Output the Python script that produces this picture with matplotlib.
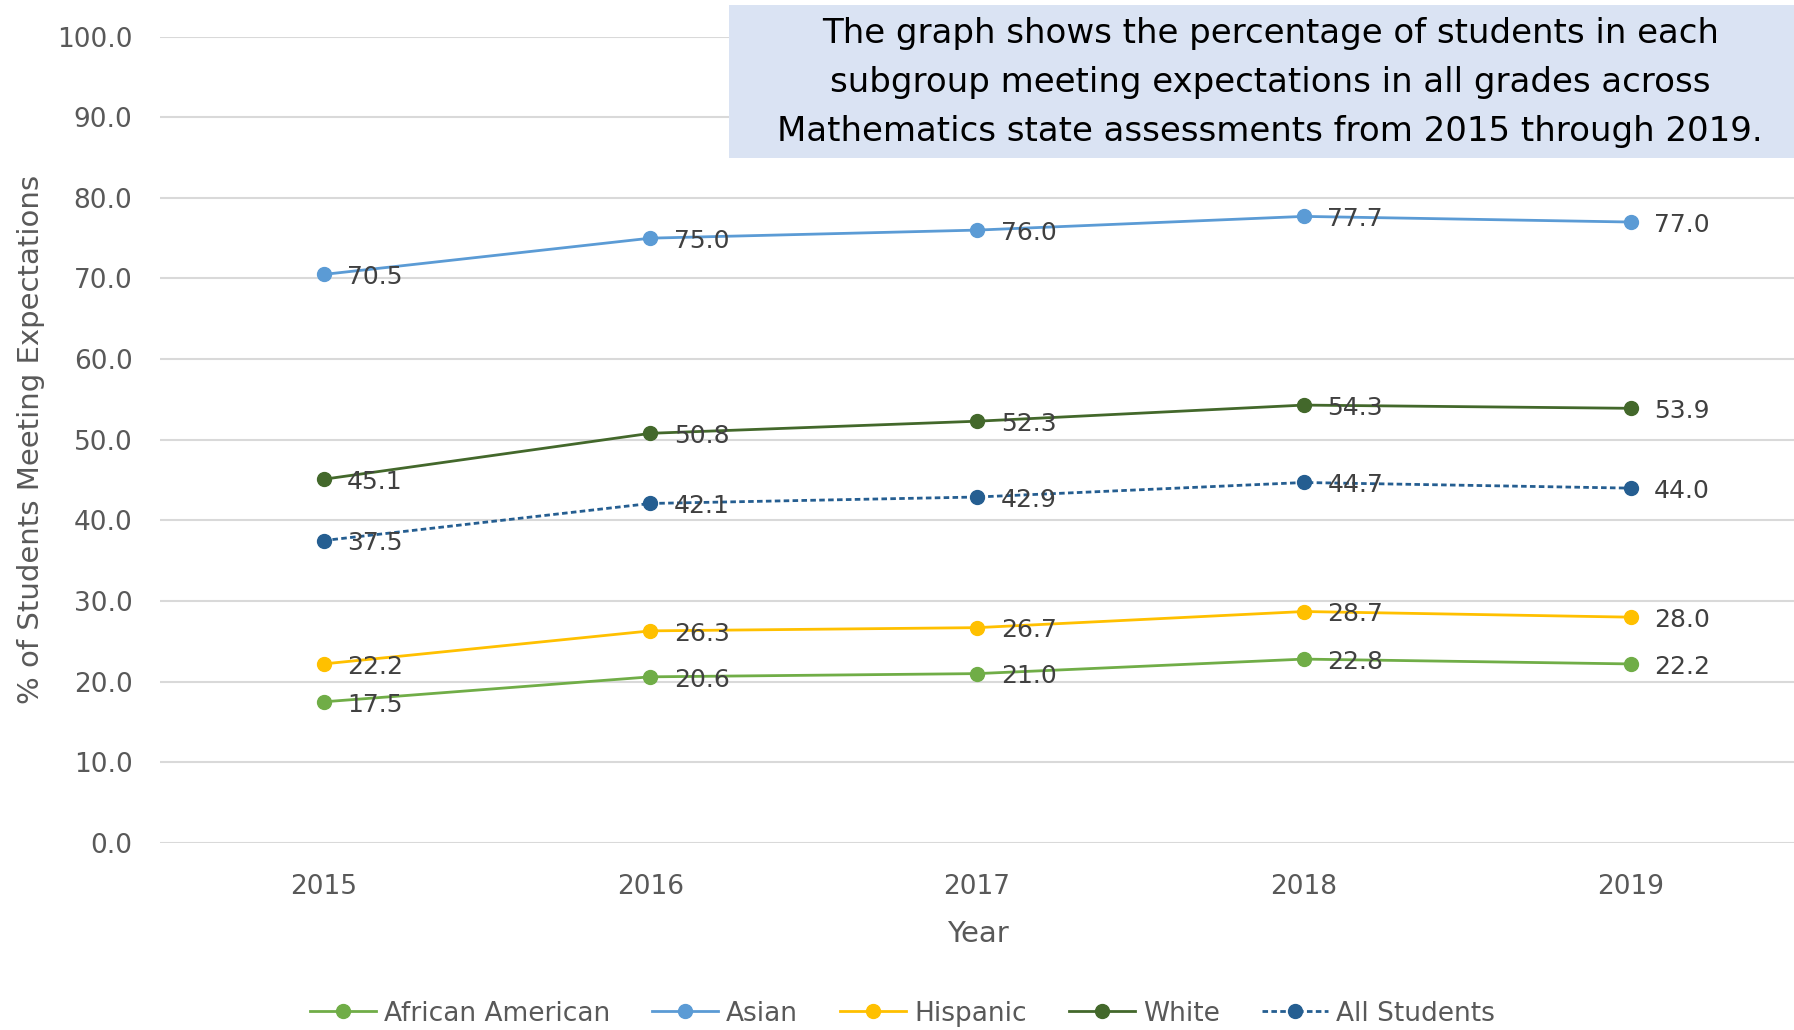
import matplotlib
matplotlib.use('Agg')
import matplotlib.pyplot as plt
from matplotlib.patches import Rectangle

plt.rcParams['font.family'] = ['DejaVu Sans']

anos = ['2015', '2016', '2017', '2018', '2019']
african_american = [17.5, 20.6, 21.0, 22.8, 22.2]
asian = [70.5, 75.0, 76.0, 77.7, 77.0]
hispanic = [22.2, 26.3, 26.7, 28.7, 28.0]
white = [45.1, 50.8, 52.3, 54.3, 53.9]
all_students = [37.5, 42.1, 42.9, 44.7, 44.0]

series = [
    ('African American', african_american, '#70AD47', '-'),
    ('Asian', asian, '#5B9BD5', '-'),
    ('Hispanic', hispanic, '#FFC000', '-'),
    ('White', white, '#43682B', '-'),
    ('All Students', all_students, '#255E91', (0, (2, 1.2))),
]

fig = plt.figure(figsize=(17.94, 10.30), dpi=100)
ax = fig.add_axes([0.0893, 0.1816, 0.9107, 0.7829])

x = range(len(anos))
for nome, vals, cor, estilo in series:
    ax.plot(x, vals, color=cor, linestyle=estilo, linewidth=2.0,
            marker='o', markersize=10, label=nome)
    for xi, v in zip(x, vals):
        ax.annotate(f'{v:.1f}', (xi, v), xytext=(17, -2), textcoords='offset points',
                    ha='left', va='center', fontsize=18, color='#404040')

ax.set_xlim(-0.5, 4.5)
ax.set_ylim(0, 100)
ax.set_yticks(range(0, 101, 10))
ax.set_yticklabels([f'{t:.1f}' for t in range(0, 101, 10)])
ax.set_xticks(list(x))
ax.set_xticklabels(anos)
ax.tick_params(axis='y', length=0, labelsize=19, colors='#595959', pad=20)
ax.tick_params(axis='x', length=0, labelsize=19, colors='#595959', pad=22)
ax.grid(axis='y', color='#D9D9D9', linewidth=1.5)
ax.set_axisbelow(True)
for lado in ax.spines.values():
    lado.set_visible(False)

fig.text(0.0173, 0.573, '% of Students Meeting Expectations', rotation=90,
         ha='center', va='center', fontsize=21, color='#595959')
fig.text(0.545, 0.093, 'Year', ha='center', va='center', fontsize=21, color='#595959')

fig.legend(loc='center', bbox_to_anchor=(0.503, 0.016), ncol=5, frameon=False,
           fontsize=19, labelcolor='#595959', handlelength=2.5, columnspacing=1.6,
           handletextpad=0.3)

# caixa azul com o texto explicativo
fig.patches.append(Rectangle((0.4064, 0.847), 0.6, 0.148, transform=fig.transFigure,
                             facecolor='#DAE3F3', edgecolor='none', zorder=5))
fig.text(0.708, 0.920,
         'The graph shows the percentage of students in each\n'
         'subgroup meeting expectations in all grades across\n'
         'Mathematics state assessments from 2015 through 2019.',
         ha='center', va='center', fontsize=24.5, color='black', linespacing=1.6,
         zorder=6)

fig.savefig('out.png', dpi=100)
